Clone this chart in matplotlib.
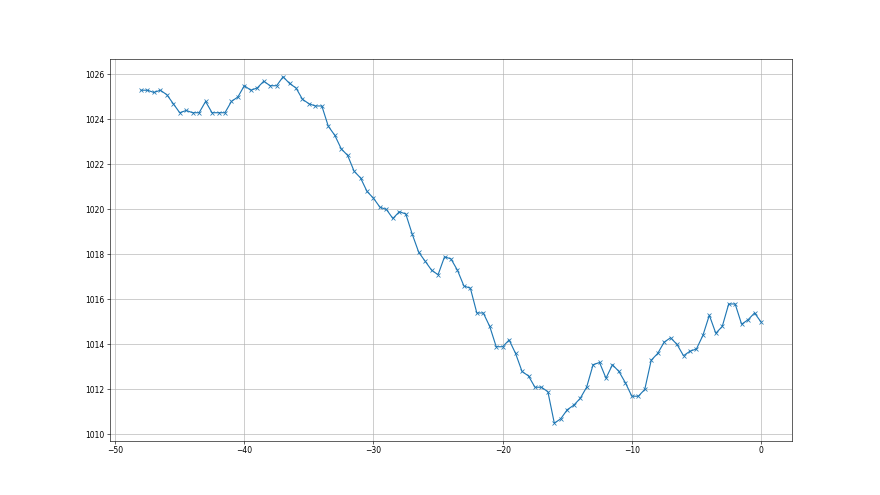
import numpy as np
import matplotlib
matplotlib.use("Agg")
import matplotlib.pyplot as plt

# hours before now, sampled every half hour
hours = np.arange(-48, 0.5, 0.5)

# pressure readings (hPa)
pressure = [
    1025.3, 1025.3, 1025.2, 1025.3, 1025.1, 1024.7, 1024.3, 1024.4, 1024.3, 1024.3,
    1024.8, 1024.3, 1024.3, 1024.3, 1024.8, 1025.0, 1025.5, 1025.3, 1025.4, 1025.7,
    1025.5, 1025.5, 1025.9, 1025.6, 1025.4, 1024.9, 1024.7, 1024.6, 1024.6, 1023.7,
    1023.3, 1022.7, 1022.4, 1021.7, 1021.4, 1020.8, 1020.5, 1020.1, 1020.0, 1019.6,
    1019.9, 1019.8, 1018.9, 1018.1, 1017.7, 1017.3, 1017.1, 1017.9, 1017.8, 1017.3,
    1016.6, 1016.5, 1015.4, 1015.4, 1014.8, 1013.9, 1013.9, 1014.2, 1013.6, 1012.8,
    1012.6, 1012.1, 1012.1, 1011.9, 1010.5, 1010.7, 1011.1, 1011.3, 1011.6, 1012.1,
    1013.1, 1013.2, 1012.5, 1013.1, 1012.8, 1012.3, 1011.7, 1011.7, 1012.0, 1013.3,
    1013.6, 1014.1, 1014.3, 1014.0, 1013.5, 1013.7, 1013.8, 1014.4, 1015.3, 1014.5,
    1014.8, 1015.8, 1015.8, 1014.9, 1015.1, 1015.4, 1015.0,
]

fig, ax = plt.subplots(figsize=(16, 9), dpi=55)
ax.plot(hours, pressure, marker="x")
ax.grid(True)

fig.savefig("out.png", dpi=55)
